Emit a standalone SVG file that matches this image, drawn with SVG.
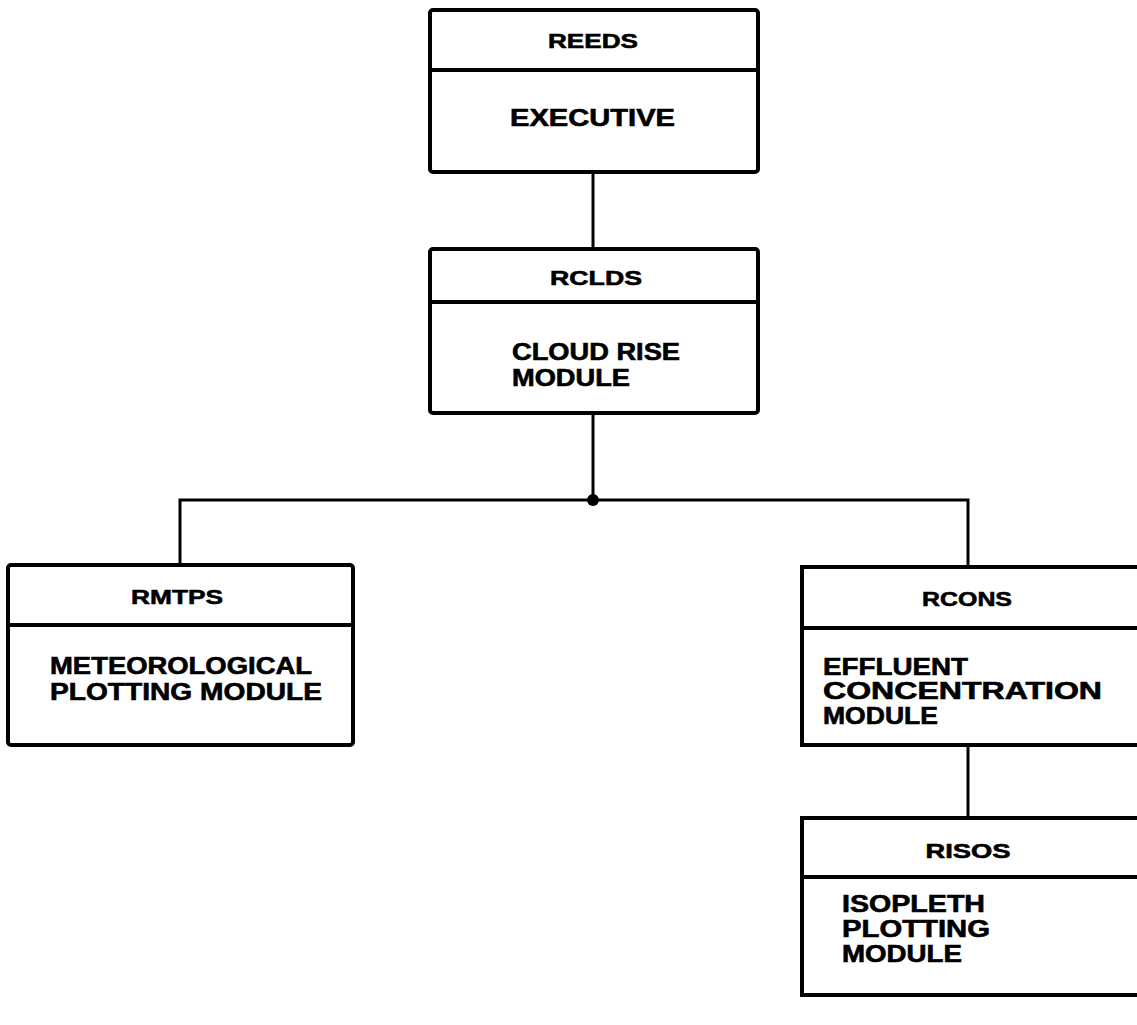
<svg xmlns="http://www.w3.org/2000/svg" width="1137" height="1025" viewBox="0 0 1137 1025">
  <style>
    .box { fill: #fff; stroke: #000; stroke-width: 4; }
    .div { stroke: #000; stroke-width: 4; }
    .wire { fill: none; stroke: #000; stroke-width: 3; }
    .t { font-family: "Liberation Sans", Arial, sans-serif; font-weight: bold; fill: #000; stroke: #000; stroke-width: 0.6; }
    .hd { font-size: 21px; text-anchor: middle; }
    .bd { font-size: 23px; }
  </style>
  <rect width="1137" height="1025" fill="#fff"/>

  <!-- connectors -->
  <g id="connectors">
    <line class="wire" x1="593" y1="172" x2="593" y2="249"/>
    <line class="wire" x1="593" y1="413" x2="593" y2="500"/>
    <polyline class="wire" points="180,565 180,500 968,500 968,567"/>
    <circle cx="593" cy="500" r="6" fill="#000"/>
    <line class="wire" x1="968" y1="745" x2="968" y2="818"/>
  </g>

  <!-- executive -->
  <g id="reeds">
    <rect class="box" x="430" y="10" width="328" height="162" rx="3"/>
    <line class="div" x1="430" y1="70" x2="758" y2="70"/>
    <text class="t hd" x="593" y="48" textLength="90" lengthAdjust="spacingAndGlyphs">REEDS</text>
    <text class="t bd" x="510" y="126" textLength="165" lengthAdjust="spacingAndGlyphs">EXECUTIVE</text>
  </g>

  <!-- cloud rise -->
  <g id="rclds">
    <rect class="box" x="430" y="249" width="328" height="164" rx="3"/>
    <line class="div" x1="430" y1="302" x2="758" y2="302"/>
    <text class="t hd" x="596" y="285" textLength="92" lengthAdjust="spacingAndGlyphs">RCLDS</text>
    <text class="t bd" x="512" y="360" textLength="168" lengthAdjust="spacingAndGlyphs">CLOUD RISE</text>
    <text class="t bd" x="512" y="386" textLength="118" lengthAdjust="spacingAndGlyphs">MODULE</text>
  </g>

  <!-- meteorological plotting -->
  <g id="rmtps">
    <rect class="box" x="8" y="565" width="345" height="180" rx="3"/>
    <line class="div" x1="8" y1="625" x2="353" y2="625"/>
    <text class="t hd" x="177" y="604" textLength="92" lengthAdjust="spacingAndGlyphs">RMTPS</text>
    <text class="t bd" x="50" y="674" textLength="262" lengthAdjust="spacingAndGlyphs">METEOROLOGICAL</text>
    <text class="t bd" x="50" y="700" textLength="272" lengthAdjust="spacingAndGlyphs">PLOTTING MODULE</text>
  </g>

  <!-- effluent concentration (right edge runs off the sheet) -->
  <g id="rcons">
    <polyline class="box" points="1140,567 802,567 802,745 1140,745"/>
    <line class="div" x1="802" y1="628" x2="1140" y2="628"/>
    <text class="t hd" x="967" y="606" textLength="90" lengthAdjust="spacingAndGlyphs">RCONS</text>
    <text class="t bd" x="823" y="675" textLength="145" lengthAdjust="spacingAndGlyphs">EFFLUENT</text>
    <text class="t bd" x="823" y="699" textLength="279" lengthAdjust="spacingAndGlyphs">CONCENTRATION</text>
    <text class="t bd" x="823" y="724" textLength="115" lengthAdjust="spacingAndGlyphs">MODULE</text>
  </g>

  <!-- isopleth plotting -->
  <g id="risos">
    <polyline class="box" points="1140,818 802,818 802,995 1140,995"/>
    <line class="div" x1="802" y1="877" x2="1140" y2="877"/>
    <text class="t hd" x="968" y="858" textLength="85" lengthAdjust="spacingAndGlyphs">RISOS</text>
    <text class="t bd" x="842" y="912" textLength="143" lengthAdjust="spacingAndGlyphs">ISOPLETH</text>
    <text class="t bd" x="842" y="937" textLength="148" lengthAdjust="spacingAndGlyphs">PLOTTING</text>
    <text class="t bd" x="842" y="962" textLength="120" lengthAdjust="spacingAndGlyphs">MODULE</text>
  </g>
</svg>
